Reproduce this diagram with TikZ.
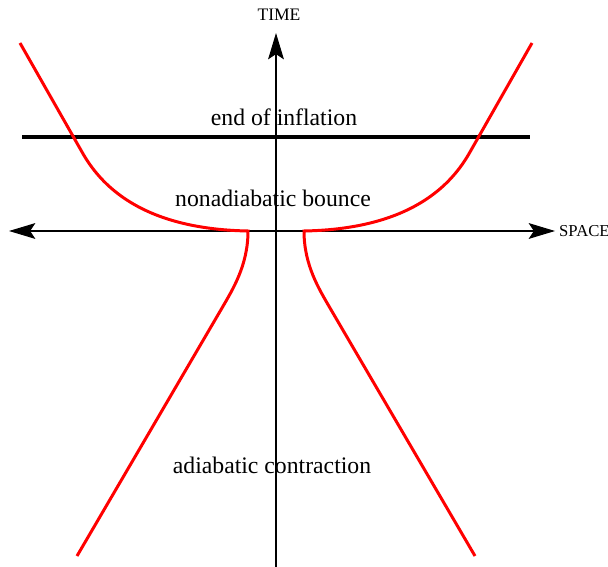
\documentclass[tikz,border=0pt]{standalone}
\usepackage{fontspec}
\setmainfont{Liberation Serif}
\usetikzlibrary{arrows.meta}

\begin{document}
\begin{tikzpicture}[x=0.02cm,y=-0.02cm]
\definecolor{bounce}{HTML}{FF0000}
\useasboundingbox (0,0) rectangle (608,567);
% axes
\coordinate (tbot) at (276,567); \coordinate (ttop) at (276,33);
\coordinate (sleft) at (9,231); \coordinate (sright) at (555,231);
\draw[line width=0.6pt,-{Stealth[length=15pt,width=9pt,inset=3pt]}] (tbot) -- (ttop);
\draw[line width=0.6pt,{Stealth[length=15pt,width=9pt,inset=3pt]}-{Stealth[length=15pt,width=9pt,inset=3pt]}] (sleft) -- (sright);
\node[font=\fontsize{10}{11}\selectfont] (time) at (279,15) {TIME};
\node[font=\fontsize{9.5}{10}\selectfont,anchor=west] (space) at (553,231) {SPACE};
% end of inflation
\coordinate (eleft) at (22,137); \coordinate (eright) at (530,137);
\draw[line width=2pt] (eleft) -- (eright);
\node[font=\fontsize{13.5}{15}\selectfont] (endinf) at (284,117) {end of inflation};
\node[font=\fontsize{13.5}{15}\selectfont] (nonad) at (273,198) {nonadiabatic bounce};
\node[font=\fontsize{13.5}{15}\selectfont] (adiab) at (272,465) {adiabatic contraction};
% the bounce curves
\draw[bounce,line width=1.7pt] (20,43) -- (82,152) .. controls (100,184) and (140,229) .. (248,231)
  .. controls (248,265) and (233,289) .. (222,308) -- (77,556);
\draw[bounce,line width=1.7pt] (532,43) -- (470,152) .. controls (452,184) and (412,229) .. (304,231)
  .. controls (304,265) and (319,289) .. (330,308) -- (475,556);
\end{tikzpicture}
\end{document}
